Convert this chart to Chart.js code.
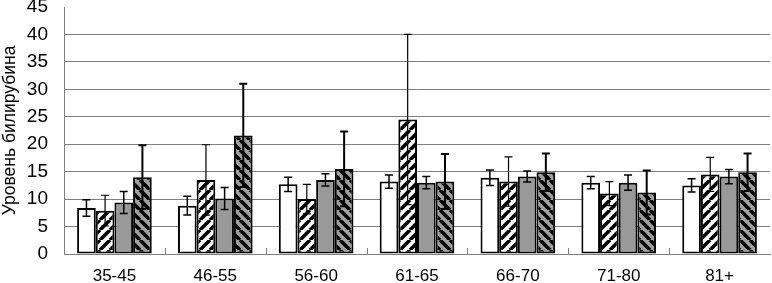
<!DOCTYPE html>
<html>
<head>
<meta charset="utf-8">
<script src="https://cdn.jsdelivr.net/npm/chart.js@4"></script>
<style>
  html, body { margin: 0; padding: 0; background: #fff; }
  #wrap { width: 772px; height: 283px; }
</style>
</head>
<body>
<div id="wrap"><canvas id="chart"></canvas></div>
<script>
const categories = ['35-45', '46-55', '56-60', '61-65', '66-70', '71-80', '81+'];

const white = [8.4, 8.8, 12.7, 13.2, 13.9, 13.0, 12.5];
const whiteErr = [1.5, 1.7, 1.3, 1.2, 1.4, 1.1, 1.2];

const hatch = [7.9, 13.5, 10.0, 24.5, 13.2, 11.0, 14.5];
const hatchErr = [2.8, 6.4, 2.7, 15.5, 4.5, 2.2, 3.1];

const gray = [9.4, 10.1, 13.5, 13.0, 14.1, 13.0, 14.1];
const grayErr = [2.0, 2.0, 1.1, 1.1, 1.0, 1.4, 1.3];

const darkHatch = [14.0, 21.6, 15.5, 13.2, 14.9, 11.2, 14.9];
const darkHatchErr = [5.8, 9.4, 6.8, 5.0, 3.4, 4.0, 3.4];

function stripes(bg, dir) {
    const s = 10;
    const c = document.createElement('canvas');
    c.width = s; c.height = s;
    const g = c.getContext('2d');
    g.fillStyle = bg;
    g.fillRect(0, 0, s, s);
    g.strokeStyle = '#000';
    g.lineWidth = 3.6;
    g.beginPath();
    for (let k = -1; k <= 1; k++) {
        if (dir === '/') {
            g.moveTo(k * s, s); g.lineTo(k * s + s, 0);
        } else {
            g.moveTo(k * s, 0); g.lineTo(k * s + s, s);
        }
    }
    g.stroke();
    return g.createPattern(c, 'repeat');
}

const ctx = document.getElementById('chart').getContext('2d');

const errorBars = {
    id: 'errorBars',
    afterDatasetsDraw(chart) {
        const c = chart.ctx;
        const y = chart.scales.y;
        chart.data.datasets.forEach((ds, i) => {
            const meta = chart.getDatasetMeta(i);
            c.save();
            c.strokeStyle = '#000';
            c.lineWidth = ds.errWidth;
            meta.data.forEach((bar, j) => {
                const v = ds.data[j], e = ds.err[j];
                const top = y.getPixelForValue(v + e);
                const bot = y.getPixelForValue(v - e);
                c.beginPath();
                c.moveTo(bar.x, top); c.lineTo(bar.x, bot);
                c.moveTo(bar.x - 4, top); c.lineTo(bar.x + 4, top);
                c.moveTo(bar.x - 4, bot); c.lineTo(bar.x + 4, bot);
                c.stroke();
            });
            c.restore();
        });
    }
};

const innerTicks = {
    id: 'innerTicks',
    afterDraw(chart) {
        const c = chart.ctx;
        const x = chart.scales.x;
        const bottom = chart.chartArea.bottom;
        c.save();
        c.strokeStyle = '#808080';
        c.lineWidth = 1;
        for (let i = 1; i < categories.length; i++) {
            const px = Math.round((x.getPixelForValue(i - 1) + x.getPixelForValue(i)) / 2) + 0.5;
            c.beginPath();
            c.moveTo(px, bottom); c.lineTo(px, bottom - 6);
            c.stroke();
        }
        c.restore();
    }
};

new Chart(ctx, {
    type: 'bar',
    data: {
        labels: categories,
        datasets: [
            { data: white, err: whiteErr, errWidth: 1.5, backgroundColor: '#ffffff' },
            { data: hatch, err: hatchErr, errWidth: 1.2, backgroundColor: stripes('#ffffff', '/') },
            { data: gray, err: grayErr, errWidth: 1.5, backgroundColor: '#999999' },
            { data: darkHatch, err: darkHatchErr, errWidth: 2, backgroundColor: stripes('#a0a0a0', '\\') }
        ]
    },
    options: {
        responsive: true,
        maintainAspectRatio: false,
        animation: false,
        layout: { padding: { top: 0, right: 2, left: 0, bottom: 0 } },
        datasets: {
            bar: {
                borderColor: '#000',
                borderWidth: 2,
                borderSkipped: false,
                categoryPercentage: 0.74,
                barPercentage: 1.0
            }
        },
        plugins: {
            legend: { display: false },
            tooltip: { enabled: false }
        },
        scales: {
            x: {
                grid: { display: false },
                border: { color: '#808080', width: 1 },
                ticks: {
                    color: '#000',
                    font: { family: 'Liberation Sans, Arial', size: 17 },
                    padding: 4
                },
                afterFit: (s) => { s.height = 29; }
            },
            y: {
                min: 0,
                max: 45,
                ticks: {
                    stepSize: 5,
                    color: '#000',
                    padding: 16,
                    font: { family: 'Liberation Sans, Arial', size: 19 }
                },
                grid: {
                    drawTicks: false,
                    color: (c) => (c.tick && (c.tick.value === 45 || c.tick.value === 0)) ? 'rgba(0,0,0,0)' : '#808080'
                },
                border: { color: '#808080', width: 1 },
                title: {
                    display: true,
                    text: 'Уровень билирубина',
                    color: '#000',
                    font: { family: 'Liberation Sans, Arial', size: 17.5 },
                    padding: { top: 0, bottom: 0 }
                },
                afterFit: (s) => {
                    s.width = 64;
                    s.paddingTop = 7;
                    s.paddingBottom = 0;
                }
            }
        }
    },
    plugins: [errorBars, innerTicks]
});
</script>
</body>
</html>
